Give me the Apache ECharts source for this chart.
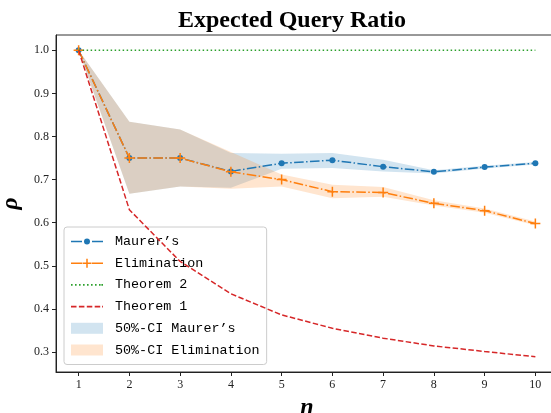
<!DOCTYPE html>
<html>
<head>
<meta charset="utf-8">
<script src="https://cdn.jsdelivr.net/npm/echarts@6/dist/echarts.min.js"></script>
<style>
html,body{margin:0;padding:0;background:#fff;}
#chart{width:551px;height:413px;}
</style>
</head>
<body>
<div id="chart"></div>
<script>
// ---- data ----
const nValues = [1, 2, 3, 4, 5, 6, 7, 8, 9, 10];
const maurer = [1.0, 0.75, 0.75, 0.719, 0.738, 0.745, 0.730, 0.718, 0.729, 0.738];
const elimination = [1.0, 0.75, 0.75, 0.718, 0.700, 0.672, 0.670, 0.645, 0.628, 0.598];
const theorem2 = [1.0, 1.0, 1.0, 1.0, 1.0, 1.0, 1.0, 1.0, 1.0, 1.0];
const theorem1 = [1.0, 0.630, 0.510, 0.435, 0.386, 0.355, 0.332, 0.314, 0.301, 0.289];
const maurerLo = [1.0, 0.667, 0.684, 0.681, 0.725, 0.727, 0.719, 0.714, 0.726, 0.735];
const maurerHi = [1.0, 0.834, 0.816, 0.762, 0.760, 0.762, 0.746, 0.722, 0.732, 0.741];
const elimLo = [1.0, 0.667, 0.684, 0.679, 0.684, 0.657, 0.660, 0.640, 0.623, 0.594];
const elimHi = [1.0, 0.834, 0.816, 0.764, 0.712, 0.688, 0.683, 0.652, 0.633, 0.603];
const xTicks = [1, 2, 3, 4, 5, 6, 7, 8, 9, 10];
const yTicks = [0.3, 0.4, 0.5, 0.6, 0.7, 0.8, 0.9, 1.0];
const seriesNames = ['Maurer\u2019s', 'Elimination', 'Theorem 2', 'Theorem 1', '50%-CI Maurer\u2019s', '50%-CI Elimination'];

const C_BLUE = '#1f77b4', C_ORANGE = '#ff7f0e', C_GREEN = '#2ca02c', C_RED = '#d62728';
const BAND_BLUE = 'rgba(31,119,180,0.2)', BAND_ORANGE = 'rgba(255,127,14,0.2)';
const serif = 'Liberation Serif';
const mono = 'Liberation Mono';

function pairs(ys) { return nValues.map((x, i) => [x, ys[i]]); }
function bandData(lo, hi) { return nValues.map((x, i) => [x, lo[i], hi[i]]); }
function bandRender(lo, hi, fill) {
  return function (params, api) {
    if (params.dataIndex !== 0) return;
    const pts = [];
    for (let i = 0; i < nValues.length; i++) pts.push(api.coord([nValues[i], hi[i]]));
    for (let i = nValues.length - 1; i >= 0; i--) pts.push(api.coord([nValues[i], lo[i]]));
    return { type: 'polygon', shape: { points: pts }, style: { fill: fill } };
  };
}
const dashDot = [9.6, 2.4, 1.5, 2.4];
const plusPath = 'path://M-1.5,-10L1.5,-10L1.5,-1.5L10,-1.5L10,1.5L1.5,1.5L1.5,10L-1.5,10L-1.5,1.5L-10,1.5L-10,-1.5L-1.5,-1.5Z';

// legend icons (32 px wide shapes, kept at aspect)
function seg(x0, x1, h) { return 'M' + x0 + ',' + (-h) + 'L' + x1 + ',' + (-h) + 'L' + x1 + ',' + h + 'L' + x0 + ',' + h + 'Z'; }
const iconMaurer = 'path://' + seg(0, 11, 0.8) + seg(21, 32, 0.8) +
  'M13,0A3,3 0 1,0 19,0A3,3 0 1,0 13,0Z';
const iconElim = 'path://' + seg(0, 11, 0.8) + seg(21, 32, 0.8) +
  'M15.25,-4.5L16.75,-4.5L16.75,-0.75L20.5,-0.75L20.5,0.75L16.75,0.75L16.75,4.5L15.25,4.5L15.25,0.75L11.5,0.75L11.5,-0.75L15.25,-0.75Z';
let dots = '';
for (let x = 0; x < 32; x += 4) dots += seg(x, x + 1.6, 0.8);
dots += seg(30.4, 32, 0.8);
const iconDotted = 'path://' + dots;
const iconDashed = 'path://' + seg(0, 5.5, 0.8) + seg(7.9, 13.4, 0.8) + seg(15.8, 21.3, 0.8) + seg(23.7, 29.2, 0.8) + seg(31.1, 32, 0.8);
const iconRect = 'path://M0,0L32,0L32,11L0,11Z';

const chart = echarts.init(document.getElementById('chart'), null, { renderer: 'canvas' });
chart.setOption({
  animation: false,
  backgroundColor: '#fff',
  title: {
    text: 'Expected Query Ratio',
    left: 287, top: 4, textAlign: 'center',
    textStyle: { fontFamily: serif, fontWeight: 'bold', fontSize: 24, color: '#000' }
  },
  grid: { left: 56, top: 35, width: 502, height: 337, outerBoundsMode: 'none', containLabel: false,
          show: true, borderColor: '#333', borderWidth: 1, backgroundColor: 'transparent' },
  xAxis: {
    type: 'value', min: 0.554, max: 10.446,
    name: 'n', nameLocation: 'middle', nameGap: 19,
    nameTextStyle: { fontFamily: serif, fontStyle: 'italic', fontWeight: 'bold', fontSize: 24, color: '#000' },
    axisLine: { show: true, onZero: false, lineStyle: { color: '#222', width: 1 } },
    axisTick: { show: true, customValues: xTicks, length: 4, lineStyle: { color: '#222' } },
    axisLabel: { customValues: xTicks, margin: 7, fontFamily: serif, fontSize: 12, color: '#222' },
    splitLine: { show: false }
  },
  yAxis: {
    type: 'value', min: 0.2535, max: 1.0356,
    name: '\u03c1', nameLocation: 'middle', nameGap: 23, nameRotate: 90,
    nameTextStyle: { fontFamily: serif, fontStyle: 'italic', fontWeight: 'bold', fontSize: 24, color: '#000' },
    axisLine: { show: true, onZero: false, lineStyle: { color: '#222', width: 1 } },
    axisTick: { show: true, customValues: yTicks, length: 4, lineStyle: { color: '#222' } },
    axisLabel: { customValues: yTicks, margin: 7, fontFamily: serif, fontSize: 12, color: '#222', formatter: v => v.toFixed(1) },
    splitLine: { show: false }
  },
  legend: {
    orient: 'vertical', left: 64, top: 227,
    itemWidth: 32, itemHeight: 14, itemGap: 8.7,
    padding: [8, 7, 8, 7],
    backgroundColor: 'rgba(255,255,255,0.8)', borderColor: '#ccc', borderWidth: 1, borderRadius: 3,
    textStyle: { fontFamily: mono, fontSize: 13.4, color: '#000', padding: [0, 0, 0, 7] },
    data: [
      { name: seriesNames[0], icon: iconMaurer },
      { name: seriesNames[1], icon: iconElim },
      { name: seriesNames[2], icon: iconDotted },
      { name: seriesNames[3], icon: iconDashed },
      { name: seriesNames[4], icon: iconRect, itemStyle: { color: BAND_BLUE } },
      { name: seriesNames[5], icon: iconRect, itemStyle: { color: BAND_ORANGE } }
    ]
  },
  series: [
    {
      name: seriesNames[4], type: 'custom', z: 1,
      data: bandData(maurerLo, maurerHi), encode: { x: 0, y: [1, 2] },
      renderItem: bandRender(maurerLo, maurerHi, BAND_BLUE),
      itemStyle: { color: BAND_BLUE }, silent: true
    },
    {
      name: seriesNames[5], type: 'custom', z: 1,
      data: bandData(elimLo, elimHi), encode: { x: 0, y: [1, 2] },
      renderItem: bandRender(elimLo, elimHi, BAND_ORANGE),
      itemStyle: { color: BAND_ORANGE }, silent: true
    },
    {
      name: seriesNames[0], type: 'line', z: 3, data: pairs(maurer),
      symbol: 'circle', symbolSize: 6, showSymbol: true,
      lineStyle: { color: C_BLUE, width: 1.5, type: dashDot },
      itemStyle: { color: C_BLUE }
    },
    {
      name: seriesNames[1], type: 'line', z: 4, data: pairs(elimination),
      symbol: plusPath, symbolSize: 10, showSymbol: true,
      lineStyle: { color: C_ORANGE, width: 1.5, type: dashDot },
      itemStyle: { color: C_ORANGE }
    },
    {
      name: seriesNames[2], type: 'line', z: 5, data: pairs(theorem2),
      symbol: 'none',
      lineStyle: { color: C_GREEN, width: 1.5, type: [1.5, 2.5] },
      itemStyle: { color: C_GREEN }
    },
    {
      name: seriesNames[3], type: 'line', z: 6, data: pairs(theorem1),
      symbol: 'none',
      lineStyle: { color: C_RED, width: 1.5, type: [5.5, 2.4] },
      itemStyle: { color: C_RED }
    }
  ]
});
</script>
</body>
</html>
